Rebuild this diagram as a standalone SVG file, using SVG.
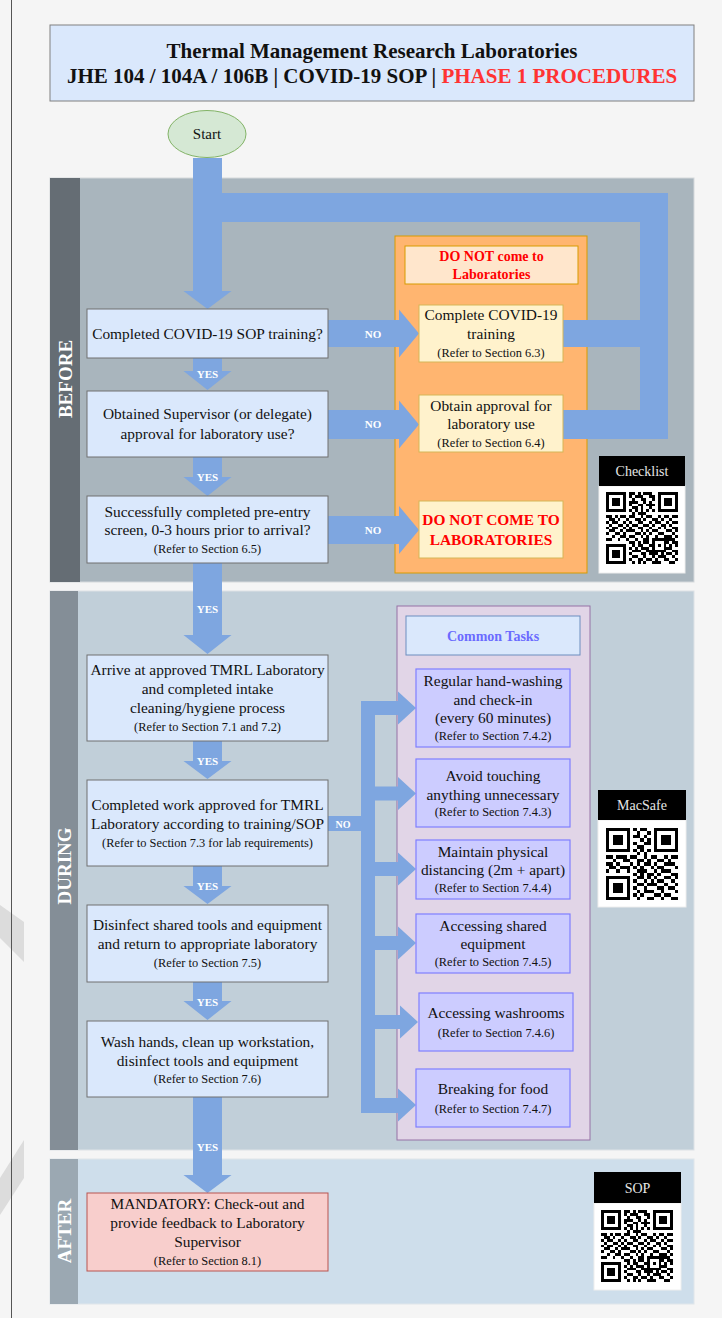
<svg xmlns="http://www.w3.org/2000/svg" xmlns:xlink="http://www.w3.org/1999/xlink" width="722" height="1318" viewBox="0 0 722 1318">
<style>
.t{font-family:"Liberation Serif","Times New Roman",serif;font-size:15.4px;fill:#111;text-anchor:middle}
.r{font-size:12.4px}
.b{font-weight:bold}
.red{fill:#ff0000;font-weight:bold}
.yn{font-family:"Liberation Serif",serif;font-size:11px;font-weight:bold;fill:#ffffff;text-anchor:middle}
.sec{font-family:"Liberation Serif",serif;font-size:19px;font-weight:bold;fill:#ffffff;text-anchor:middle}
.qrl{font-family:"Liberation Serif",serif;font-size:14px;fill:#e6e6e6;text-anchor:middle}
.flow{fill:#dae8fc;stroke:#707070;stroke-width:1}
.yel{fill:#fff2cc;stroke:#d6b656;stroke-width:1}
.task{fill:#ccccff;stroke:#7f7fff;stroke-width:1.2}
.arr{fill:#7ea6e0;stroke:none}
</style>
<defs>
<symbol id="qr25" viewBox="0 0 25 25" shape-rendering="crispEdges">
<path fill-rule="evenodd" fill="#000" d="M0 0h7v7h-7z M1 1v5h5v-5z M2 2h3v3h-3z M18 0h7v7h-7z M19 1v5h5v-5z M20 2h3v3h-3z M0 18h7v7h-7z M1 19v5h5v-5z M2 20h3v3h-3z M16 16h5v5h-5z M17 17v3h3v-3z M18 18h1v1h-1z"/>
<path fill="#000" d="M8 0h2v1h-2z M11 0h1v1h-1z M13 0h3v1h-3z M8 1h1v1h-1z M10 1h3v1h-3z M15 1h2v1h-2z M9 2h1v1h-1z M12 2h2v1h-2z M16 2h1v1h-1z M8 3h3v1h-3z M13 3h1v1h-1z M15 3h1v1h-1z M8 4h1v1h-1z M11 4h2v1h-2z M14 4h3v1h-3z M9 5h2v1h-2z M12 5h1v1h-1z M15 5h1v1h-1z M8 6h1v1h-1z M10 6h1v1h-1z M12 6h1v1h-1z M14 6h1v1h-1z M16 6h1v1h-1z M9 7h1v1h-1z M11 7h3v1h-3z M0 8h2v1h-2z M3 8h1v1h-1z M5 8h2v1h-2z M8 8h2v1h-2z M12 8h1v1h-1z M14 8h2v1h-2z M18 8h1v1h-1z M20 8h2v1h-2z M23 8h2v1h-2z M1 9h2v1h-2z M4 9h1v1h-1z M7 9h1v1h-1z M10 9h2v1h-2z M13 9h1v1h-1z M16 9h2v1h-2z M19 9h1v1h-1z M22 9h1v1h-1z M0 10h1v1h-1z M2 10h2v1h-2z M6 10h1v1h-1z M8 10h1v1h-1z M11 10h2v1h-2z M15 10h1v1h-1z M17 10h2v1h-2z M21 10h1v1h-1z M23 10h2v1h-2z M1 11h1v1h-1z M4 11h2v1h-2z M7 11h1v1h-1z M9 11h2v1h-2z M13 11h2v1h-2z M16 11h1v1h-1z M19 11h2v1h-2z M22 11h1v1h-1z M0 12h1v1h-1z M2 12h2v1h-2z M6 12h1v1h-1z M8 12h1v1h-1z M11 12h2v1h-2z M15 12h1v1h-1z M18 12h1v1h-1z M20 12h1v1h-1z M23 12h2v1h-2z M1 13h2v1h-2z M5 13h1v1h-1z M7 13h3v1h-3z M12 13h1v1h-1z M14 13h1v1h-1z M16 13h2v1h-2z M21 13h2v1h-2z M24 13h1v1h-1z M0 14h1v1h-1z M3 14h2v1h-2z M6 14h1v1h-1z M10 14h2v1h-2z M13 14h1v1h-1z M15 14h1v1h-1z M18 14h2v1h-2z M23 14h1v1h-1z M2 15h1v1h-1z M5 15h2v1h-2z M8 15h2v1h-2z M12 15h1v1h-1z M14 15h1v1h-1z M17 15h1v1h-1z M20 15h3v1h-3z M24 15h1v1h-1z M0 16h2v1h-2z M4 16h1v1h-1z M7 16h1v1h-1z M10 16h1v1h-1z M13 16h2v1h-2z M21 16h3v1h-3z M8 17h2v1h-2z M11 17h1v1h-1z M13 17h2v1h-2z M21 17h1v1h-1z M23 17h2v1h-2z M9 18h1v1h-1z M11 18h2v1h-2z M15 18h1v1h-1z M22 18h1v1h-1z M24 18h1v1h-1z M8 19h1v1h-1z M10 19h1v1h-1z M12 19h3v1h-3z M21 19h2v1h-2z M9 20h3v1h-3z M14 20h2v1h-2z M23 20h2v1h-2z M8 21h1v1h-1z M12 21h2v1h-2z M15 21h3v1h-3z M19 21h1v1h-1z M21 21h2v1h-2z M24 21h1v1h-1z M9 22h2v1h-2z M13 22h1v1h-1z M16 22h1v1h-1z M18 22h3v1h-3z M23 22h1v1h-1z M8 23h1v1h-1z M11 23h2v1h-2z M14 23h2v1h-2z M17 23h1v1h-1z M20 23h2v1h-2z M24 23h1v1h-1z M9 24h1v1h-1z M11 24h1v1h-1z M13 24h1v1h-1z M16 24h3v1h-3z M22 24h2v1h-2z"/>
</symbol>
<symbol id="qr21" viewBox="0 0 21 21" shape-rendering="crispEdges">
<path fill-rule="evenodd" fill="#000" d="M0 0h7v7h-7z M1 1v5h5v-5z M2 2h3v3h-3z M14 0h7v7h-7z M15 1v5h5v-5z M16 2h3v3h-3z M0 14h7v7h-7z M1 15v5h5v-5z M2 16h3v3h-3z"/>
<path fill="#000" d="M8 0h1v1h-1z M10 0h2v1h-2z M9 1h1v1h-1z M12 1h1v1h-1z M8 2h2v1h-2z M11 2h1v1h-1z M10 3h1v1h-1z M12 3h1v1h-1z M8 4h1v1h-1z M11 4h2v1h-2z M9 5h2v1h-2z M8 6h1v1h-1z M10 6h1v1h-1z M12 6h1v1h-1z M9 7h1v1h-1z M11 7h1v1h-1z M0 8h2v1h-2z M3 8h3v1h-3z M7 8h2v1h-2z M11 8h1v1h-1z M13 8h2v1h-2z M17 8h1v1h-1z M19 8h2v1h-2z M2 9h1v1h-1z M5 9h2v1h-2z M9 9h2v1h-2z M12 9h1v1h-1z M15 9h2v1h-2z M18 9h1v1h-1z M0 10h2v1h-2z M3 10h1v1h-1z M7 10h1v1h-1z M9 10h1v1h-1z M11 10h2v1h-2z M14 10h1v1h-1z M17 10h3v1h-3z M1 11h2v1h-2z M4 11h3v1h-3z M8 11h1v1h-1z M10 11h1v1h-1z M13 11h1v1h-1z M15 11h2v1h-2z M20 11h1v1h-1z M0 12h1v1h-1z M3 12h1v1h-1z M6 12h1v1h-1z M9 12h3v1h-3z M14 12h1v1h-1z M16 12h3v1h-3z M8 13h1v1h-1z M10 13h1v1h-1z M12 13h2v1h-2z M15 13h1v1h-1z M19 13h2v1h-2z M9 14h2v1h-2z M12 14h1v1h-1z M14 14h1v1h-1z M17 14h2v1h-2z M20 14h1v1h-1z M8 15h1v1h-1z M11 15h1v1h-1z M13 15h1v1h-1z M15 15h2v1h-2z M19 15h1v1h-1z M9 16h2v1h-2z M12 16h3v1h-3z M17 16h1v1h-1z M20 16h1v1h-1z M8 17h1v1h-1z M11 17h1v1h-1z M15 17h2v1h-2z M18 17h2v1h-2z M9 18h1v1h-1z M11 18h3v1h-3z M16 18h1v1h-1z M20 18h1v1h-1z M8 19h1v1h-1z M10 19h1v1h-1z M14 19h2v1h-2z M17 19h2v1h-2z M9 20h1v1h-1z M12 20h2v1h-2z M16 20h1v1h-1z M19 20h2v1h-2z"/>
</symbol>
</defs>

<rect x="0" y="0" width="722" height="1318" fill="#f5f5f5"/>
<polygon points="0,905 24,922 24,962 0,938" fill="#dcdcdc"/>
<polygon points="0,1178 24,1140 24,1178 0,1215" fill="#dcdcdc"/>
<line x1="11.5" y1="0" x2="11.5" y2="1318" stroke="#555" stroke-width="1"/>

<g id="header">
<rect x="50" y="25" width="644" height="76" fill="#dae8fc" stroke="#808080" stroke-width="1"/>
<text class="t b" x="372" y="58" style="font-size:21px">Thermal Management Research Laboratories</text>
<text class="t b" x="372" y="83" style="font-size:21px">JHE 104 / 104A / 106B | COVID-19 SOP | <tspan fill="#ff3333">PHASE 1 PROCEDURES</tspan></text>
</g>

<g id="section-before">
<rect x="50" y="178" width="644" height="404" fill="#a9b5bd" stroke="#d5d9dc" stroke-width="1"/>
<rect x="50" y="178" width="30" height="404" fill="#656d74"/>
<text class="sec" transform="translate(72,379) rotate(-90)">BEFORE</text>
</g>
<g id="section-during">
<rect x="50" y="591" width="644" height="559" fill="#c1cfd9" stroke="#dde2e6" stroke-width="1"/>
<rect x="50" y="591" width="28" height="559" fill="#848e97"/>
<text class="sec" transform="translate(71,866) rotate(-90)">DURING</text>
</g>
<g id="section-after">
<rect x="50" y="1159" width="644" height="145" fill="#cedeeb" stroke="#e0e6ea" stroke-width="1"/>
<rect x="50" y="1159" width="28" height="145" fill="#9ba8b2"/>
<text class="sec" transform="translate(71,1231) rotate(-90)">AFTER</text>
</g>

<g id="no-panel">
<rect x="395" y="236" width="192" height="337" fill="#ffb570" stroke="#d79b00" stroke-width="1"/>
</g>
<g id="tasks-panel">
<rect x="397" y="606" width="193" height="534" fill="#e1d5e7" stroke="#9673a6" stroke-width="1"/>
</g>

<g id="start">
<ellipse cx="207" cy="134" rx="39" ry="23.5" fill="#d5e8d4" stroke="#82b366" stroke-width="1"/>
<text class="t" x="207" y="139" style="font-size:15px">Start</text>
</g>

<g id="connectors">
<path class="arr" d="M193 158H222V291H231.5L207.5 309L183.5 291H193Z"/>
<path class="arr" d="M222 193H668V439H563V410H640V347H563V320H640V222H222Z"/>
<path class="arr" d="M193 358H222V371H231.5L207.5 390L183.5 371H193Z"/>
<path class="arr" d="M193 457H222V477H231.5L207.5 496L183.5 477H193Z"/>
<path class="arr" d="M193 563H222V635H231.5L207.5 654L183.5 635H193Z"/>
<path class="arr" d="M193 741H222V761H231.5L207.5 779L183.5 761H193Z"/>
<path class="arr" d="M193 866H222V886H231.5L207.5 904L183.5 886H193Z"/>
<path class="arr" d="M193 982H222V1001H231.5L207.5 1020L183.5 1001H193Z"/>
<path class="arr" d="M193 1097H222V1175H231.5L207.5 1193L183.5 1175H193Z"/>
<path class="arr" d="M328 320H399V309.5L419 333.5L399 357.5V347H328Z"/>
<path class="arr" d="M328 410H399V400.5L419 424.5L399 448.5V439H328Z"/>
<path class="arr" d="M328 516H399V506L419 530L399 554V544H328Z"/>
<path class="arr" d="M328 816H361V701H375V1113H361V831H328Z"/>
<path class="arr" d="M375 701H398V691.5L416 708L398 724.5V715H375Z"/>
<path class="arr" d="M375 786.5H398V777L416 793.5L398 810V800.5H375Z"/>
<path class="arr" d="M375 862H398V852.5L416 869L398 885.5V876H375Z"/>
<path class="arr" d="M375 936H398V926.5L416 943L398 959.5V950H375Z"/>
<path class="arr" d="M375 1015H400V1005.5L418 1022L400 1038.5V1029H375Z"/>
<path class="arr" d="M375 1098H398V1088.5L416 1105L398 1121.5V1113H375Z"/>
<text class="yn" x="207.5" y="378">YES</text>
<text class="yn" x="207.5" y="481">YES</text>
<text class="yn" x="207.5" y="613">YES</text>
<text class="yn" x="207.5" y="765">YES</text>
<text class="yn" x="207.5" y="890">YES</text>
<text class="yn" x="207.5" y="1006">YES</text>
<text class="yn" x="207.5" y="1151">YES</text>
<text class="yn" x="373" y="338">NO</text>
<text class="yn" x="373" y="428">NO</text>
<text class="yn" x="373" y="534">NO</text>
<text class="yn" x="343" y="828" style="font-size:10px">NO</text>
</g>

<g id="q1">
<rect class="flow" x="87" y="309" width="241" height="49"/>
<text class="t" x="207.5" y="339">Completed COVID-19 SOP training?</text>
</g>
<g id="q2">
<rect class="flow" x="87" y="391" width="241" height="66"/>
<text class="t" x="207.5" y="419">Obtained Supervisor (or delegate)</text>
<text class="t" x="207.5" y="439">approval for laboratory use?</text>
</g>
<g id="q3">
<rect class="flow" x="87" y="496" width="241" height="67"/>
<text class="t" x="207.5" y="517">Successfully completed pre-entry</text>
<text class="t" x="207.5" y="535">screen, 0-3 hours prior to arrival?</text>
<text class="t r" x="207.5" y="553">(Refer to Section 6.5)</text>
</g>

<g id="no-title">
<rect x="405" y="246" width="173" height="38" fill="#ffe6cc" stroke="#d79b00" stroke-width="1"/>
<text class="t red" x="491.5" y="261" style="font-size:14px">DO NOT come to</text>
<text class="t red" x="491.5" y="279" style="font-size:14px">Laboratories</text>
</g>
<g id="complete-training">
<rect class="yel" x="419" y="305" width="144" height="57"/>
<text class="t" x="491" y="320">Complete COVID-19</text>
<text class="t" x="491" y="339">training</text>
<text class="t r" x="491" y="357">(Refer to Section 6.3)</text>
</g>
<g id="obtain-approval">
<rect class="yel" x="419" y="395" width="144" height="57"/>
<text class="t" x="491" y="411">Obtain approval for</text>
<text class="t" x="491" y="429">laboratory use</text>
<text class="t r" x="491" y="447">(Refer to Section 6.4)</text>
</g>
<g id="do-not-come">
<rect class="yel" x="419" y="501" width="144" height="57"/>
<text class="t red" x="491" y="525">DO NOT COME TO</text>
<text class="t red" x="491" y="545">LABORATORIES</text>
</g>

<g id="qr-checklist">
<rect x="599" y="486" width="86" height="87" fill="#ffffff" stroke="#eeeeee" stroke-width="1"/>
<rect x="599" y="456" width="86" height="30" fill="#000000"/>
<text class="qrl" x="642" y="476">Checklist</text>
<use xlink:href="#qr25" href="#qr25" x="606" y="492" width="72" height="72"/>
</g>

<g id="d1">
<rect class="flow" x="87" y="655" width="241" height="86"/>
<text class="t" x="207.5" y="675">Arrive at approved TMRL Laboratory</text>
<text class="t" x="207.5" y="694">and completed intake</text>
<text class="t" x="207.5" y="713">cleaning/hygiene process</text>
<text class="t r" x="207.5" y="731">(Refer to Section 7.1 and 7.2)</text>
</g>
<g id="d2">
<rect class="flow" x="87" y="780" width="241" height="86"/>
<text class="t" x="207.5" y="810">Completed work approved for TMRL</text>
<text class="t" x="207.5" y="829">Laboratory according to training/SOP</text>
<text class="t r" x="207.5" y="847">(Refer to Section 7.3 for lab requirements)</text>
</g>
<g id="d3">
<rect class="flow" x="87" y="905" width="241" height="77"/>
<text class="t" x="207.5" y="930">Disinfect shared tools and equipment</text>
<text class="t" x="207.5" y="949">and return to appropriate laboratory</text>
<text class="t r" x="207.5" y="967">(Refer to Section 7.5)</text>
</g>
<g id="d4">
<rect class="flow" x="87" y="1021" width="241" height="76"/>
<text class="t" x="207.5" y="1047">Wash hands, clean up workstation,</text>
<text class="t" x="207.5" y="1066">disinfect tools and equipment</text>
<text class="t r" x="207.5" y="1083">(Refer to Section 7.6)</text>
</g>

<g id="tasks-title">
<rect x="406" y="616" width="174" height="39" fill="#dae8fc" stroke="#6c8ebf" stroke-width="1"/>
<text class="t b" x="493" y="641" style="font-size:14px;fill:#6b6bff">Common Tasks</text>
</g>
<g id="t1">
<rect class="task" x="416" y="669" width="154" height="78"/>
<text class="t" x="493" y="686">Regular hand-washing</text>
<text class="t" x="493" y="705">and check-in</text>
<text class="t" x="493" y="723">(every 60 minutes)</text>
<text class="t r" x="493" y="740">(Refer to Section 7.4.2)</text>
</g>
<g id="t2">
<rect class="task" x="416" y="759" width="154" height="68"/>
<text class="t" x="493" y="781">Avoid touching</text>
<text class="t" x="493" y="800">anything unnecessary</text>
<text class="t r" x="493" y="816">(Refer to Section 7.4.3)</text>
</g>
<g id="t3">
<rect class="task" x="416" y="840" width="154" height="59"/>
<text class="t" x="493" y="857">Maintain physical</text>
<text class="t" x="493" y="875">distancing (2m + apart)</text>
<text class="t r" x="493" y="892">(Refer to Section 7.4.4)</text>
</g>
<g id="t4">
<rect class="task" x="416" y="914" width="154" height="59"/>
<text class="t" x="493" y="931">Accessing shared</text>
<text class="t" x="493" y="949">equipment</text>
<text class="t r" x="493" y="966">(Refer to Section 7.4.5)</text>
</g>
<g id="t5">
<rect class="task" x="419" y="993" width="154" height="58"/>
<text class="t" x="496" y="1018">Accessing washrooms</text>
<text class="t r" x="496" y="1037">(Refer to Section 7.4.6)</text>
</g>
<g id="t6">
<rect class="task" x="416" y="1069" width="154" height="58"/>
<text class="t" x="493" y="1094">Breaking for food</text>
<text class="t r" x="493" y="1113">(Refer to Section 7.4.7)</text>
</g>

<g id="qr-macsafe">
<rect x="598" y="820" width="88" height="87" fill="#ffffff" stroke="#eeeeee" stroke-width="1"/>
<rect x="598" y="790" width="88" height="30" fill="#000000"/>
<text class="qrl" x="642" y="810">MacSafe</text>
<use xlink:href="#qr21" href="#qr21" x="606" y="828" width="72" height="72"/>
</g>

<g id="a1">
<rect x="87" y="1193" width="241" height="78" fill="#f8cecc" stroke="#b85450" stroke-width="1"/>
<text class="t" x="207.5" y="1209">MANDATORY: Check-out and</text>
<text class="t" x="207.5" y="1228">provide feedback to Laboratory</text>
<text class="t" x="207.5" y="1247">Supervisor</text>
<text class="t r" x="207.5" y="1265">(Refer to Section 8.1)</text>
</g>

<g id="qr-sop">
<rect x="594" y="1203" width="87" height="87" fill="#ffffff" stroke="#eeeeee" stroke-width="1"/>
<rect x="594" y="1172" width="87" height="31" fill="#000000"/>
<text class="qrl" x="637.5" y="1193">SOP</text>
<use xlink:href="#qr25" href="#qr25" x="601" y="1210" width="72" height="72"/>
</g>
</svg>
